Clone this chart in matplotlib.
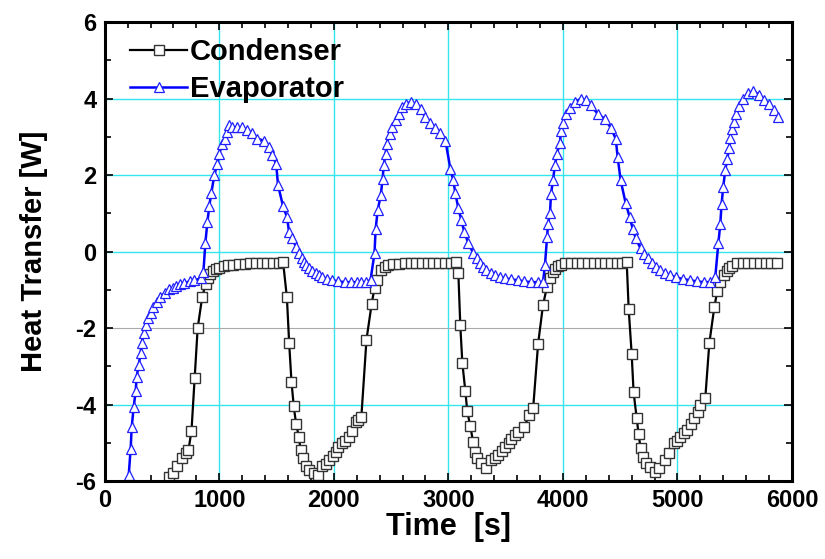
import matplotlib
matplotlib.use('Agg')
import matplotlib.pyplot as plt
from matplotlib.ticker import MultipleLocator

plt.rcParams['font.family'] = ['Liberation Sans', 'DejaVu Sans']
plt.rcParams['font.weight'] = 'bold'
plt.rcParams['axes.unicode_minus'] = False

# condenser heat transfer (black squares)
cond_t = [565, 595, 630, 670, 705, 730, 757, 785, 811, 850, 880, 900, 920, 945, 970,
          1000, 1040, 1080, 1120, 1170, 1220, 1270, 1320, 1370, 1420, 1470, 1520, 1557,
          1590, 1610, 1630, 1650, 1670, 1695, 1710, 1730, 1755, 1780, 1825, 1860, 1900,
          1930, 1960, 1990, 2015, 2040, 2070, 2100, 2130, 2160, 2190, 2215, 2240,
          2285, 2330, 2355, 2380, 2415, 2445, 2475, 2520, 2570, 2620, 2670, 2720, 2770,
          2820, 2870, 2920, 2970, 3020, 3070,
          3087, 3104, 3122, 3148, 3165, 3190, 3217, 3235, 3252, 3287, 3330, 3374, 3405,
          3435, 3465, 3496, 3525, 3550, 3580, 3610, 3660, 3705, 3740,
          3783, 3826, 3860, 3887, 3913, 3935, 3957, 3985, 4017, 4070, 4120, 4170, 4220,
          4270, 4320, 4370, 4420, 4470, 4520, 4557,
          4574, 4600, 4617, 4643, 4661, 4678, 4696, 4722, 4757, 4800, 4843, 4887, 4930,
          4974, 5000, 5026, 5055, 5087, 5120, 5148, 5175, 5200, 5243,
          5278, 5322, 5348, 5374, 5409, 5430, 5452, 5480, 5522, 5570, 5620, 5670, 5720,
          5770, 5820, 5870]
cond_q = [-5.9, -5.78, -5.6, -5.4, -5.27, -5.2, -4.69, -3.3, -2.0, -1.2, -0.85, -0.7, -0.6, -0.52, -0.46,
          -0.42, -0.38, -0.36, -0.34, -0.33, -0.32, -0.31, -0.31, -0.3, -0.3, -0.3, -0.3, -0.28,
          -1.2, -2.4, -3.4, -4.05, -4.5, -4.85, -5.2, -5.4, -5.6, -5.7, -5.78, -5.83, -5.6,
          -5.55, -5.45, -5.35, -5.25, -5.12, -5.0, -4.95, -4.85, -4.7, -4.46, -4.4, -4.33,
          -2.3, -1.37, -0.95, -0.75, -0.48, -0.4, -0.35, -0.33, -0.32, -0.31, -0.31, -0.3, -0.3,
          -0.3, -0.3, -0.3, -0.3, -0.3, -0.28,
          -0.57, -1.93, -2.92, -3.65, -4.18, -4.55, -4.99, -5.25, -5.41, -5.54, -5.65, -5.46, -5.4,
          -5.33, -5.22, -5.12, -5.0, -4.9, -4.8, -4.72, -4.6, -4.28, -4.1,
          -2.42, -1.4, -0.93, -0.7, -0.53, -0.45, -0.38, -0.34, -0.3, -0.3, -0.3, -0.3, -0.3,
          -0.3, -0.3, -0.3, -0.3, -0.3, -0.3, -0.28,
          -1.5, -2.67, -3.68, -4.34, -4.78, -5.14, -5.38, -5.54, -5.64, -5.77, -5.67, -5.46, -5.27,
          -5.0, -4.95, -4.85, -4.75, -4.67, -4.5, -4.35, -4.2, -4.0, -3.83,
          -2.4, -1.45, -1.03, -0.8, -0.62, -0.52, -0.44, -0.38, -0.31, -0.3, -0.3, -0.3, -0.3,
          -0.3, -0.3, -0.3]

# evaporator heat transfer (blue triangles)
evap_t = [209, 226, 235, 252, 270, 278, 296, 313, 322, 339, 357, 374, 400, 417, 452, 478,
          522, 565, 600, 626, 660, 696, 740, 783, 843,
          861, 878, 896, 913, 930, 957, 983, 1000, 1026, 1052, 1070, 1087, 1113, 1157, 1200,
          1243, 1287, 1330, 1391, 1435, 1460, 1496,
          1513, 1557, 1591, 1609, 1635, 1670, 1695, 1720, 1740, 1760, 1780, 1810, 1843, 1870,
          1896, 1940, 1983, 2040, 2100, 2150, 2200, 2240, 2278, 2320,
          2355, 2365, 2383, 2409, 2426, 2435, 2452, 2461, 2487, 2504, 2539, 2565, 2591, 2626,
          2670, 2713, 2757, 2800, 2843, 2887, 2930, 2974,
          3017, 3043, 3061, 3087, 3113, 3139, 3174, 3217, 3250, 3278, 3305, 3330, 3370, 3409,
          3450, 3496, 3550, 3609, 3660, 3722, 3780, 3826,
          3843, 3861, 3870, 3887, 3896, 3913, 3930, 3948, 3974, 3983, 4000, 4026, 4061, 4104,
          4157, 4200, 4243, 4304, 4365, 4417, 4461,
          4478, 4504, 4548, 4583, 4609, 4635, 4678, 4710, 4739, 4775, 4809, 4850, 4887, 4935,
          4983, 5050, 5113, 5170, 5230, 5287,
          5330, 5357, 5374, 5385, 5400, 5417, 5435, 5452, 5461, 5478, 5496, 5513, 5539, 5574,
          5617, 5660, 5713, 5757, 5800, 5843, 5880]
evap_q = [-5.85, -5.15, -4.6, -4.07, -3.65, -3.28, -2.97, -2.66, -2.4, -2.14, -1.92, -1.74, -1.61, -1.45, -1.32, -1.19,
          -1.09, -0.99, -0.95, -0.91, -0.86, -0.82, -0.78, -0.75, -0.7,
          -0.54, 0.22, 0.77, 1.2, 1.53, 2.0, 2.3, 2.56, 2.82, 2.93, 3.12, 3.3, 3.25, 3.25, 3.25,
          3.17, 3.1, 2.95, 2.9, 2.73, 2.52, 2.3,
          1.73, 1.18, 0.9, 0.51, 0.35, 0.12, -0.04, -0.17, -0.27, -0.35, -0.43, -0.5, -0.56, -0.62,
          -0.67, -0.71, -0.75, -0.78, -0.8, -0.8, -0.8, -0.8, -0.8, -0.75,
          -0.04, 0.6, 1.08, 1.47, 1.9, 2.25, 2.56, 2.82, 3.08, 3.25, 3.43, 3.6, 3.77, 3.87,
          3.9, 3.87, 3.74, 3.51, 3.35, 3.22, 3.09, 2.9,
          2.17, 1.86, 1.52, 1.13, 0.82, 0.51, 0.22, -0.04, -0.18, -0.3, -0.4, -0.48, -0.55, -0.61,
          -0.66, -0.7, -0.73, -0.75, -0.78, -0.8, -0.8, -0.8,
          -0.36, 0.38, 0.72, 1.01, 1.5, 1.86, 2.25, 2.56, 2.85, 3.16, 3.37, 3.6, 3.76, 3.9,
          4.0, 3.95, 3.82, 3.6, 3.47, 3.24, 2.95,
          2.46, 1.86, 1.26, 0.9, 0.6, 0.35, 0.08, -0.06, -0.18, -0.3, -0.41, -0.49, -0.56, -0.62,
          -0.67, -0.72, -0.75, -0.78, -0.8, -0.8,
          -0.67, 0.22, 0.72, 1.24, 1.7, 2.12, 2.43, 2.72, 2.98, 3.2, 3.4, 3.6, 3.8, 4.0,
          4.14, 4.2, 4.1, 3.95, 3.87, 3.69, 3.52]

fig = plt.figure(figsize=(8.25, 5.59), dpi=100)
ax = fig.add_axes([0.127, 0.1395, 0.833, 0.821])

# grid lines (cyan, the -2 one is grey in the original)
for gx in [1000, 2000, 3000, 4000, 5000]:
    ax.axvline(gx, color='#33e6ee', lw=1.0, zorder=0)
for gy in [4, 2, 0, -4]:
    ax.axhline(gy, color='#33e6ee', lw=1.0, zorder=0)
ax.axhline(-2, color='#aaaaaa', lw=0.8, zorder=0)

ax.plot(cond_t, cond_q, color='black', lw=1.6, marker='s', ms=7,
        mfc='white', mec='#333333', mew=1.0, label='Condenser')
ax.plot(evap_t, evap_q, color='#0000ff', lw=1.8, marker='^', ms=7,
        mfc='white', mec='#2020ff', mew=0.9, label='Evaporator')

ax.set_xlim(0, 6000)
ax.set_ylim(-6, 6)
ax.xaxis.set_major_locator(MultipleLocator(1000))
ax.xaxis.set_minor_locator(MultipleLocator(200))
ax.yaxis.set_major_locator(MultipleLocator(2))
ax.yaxis.set_minor_locator(MultipleLocator(1))
ax.tick_params(which='both', direction='in', top=True, right=True, width=1.2)
ax.tick_params(which='major', length=6, labelsize=17, pad=6)
ax.tick_params(which='minor', length=4)
for s in ax.spines.values():
    s.set_linewidth(2.2)

ax.set_xlabel('Time  [s]', fontsize=22, fontweight='bold', labelpad=0)
ax.set_ylabel('Heat Transfer [W]', fontsize=21, fontweight='bold', labelpad=20)

leg = ax.legend(loc='upper left', bbox_to_anchor=(0.014, 1.0), frameon=False,
                fontsize=21, handlelength=1.95, borderaxespad=0.25,
                labelspacing=0.3, handletextpad=0.1, borderpad=0.3)
for txt in leg.get_texts():
    txt.set_fontweight('bold')

fig.savefig('out.png', dpi=100)
